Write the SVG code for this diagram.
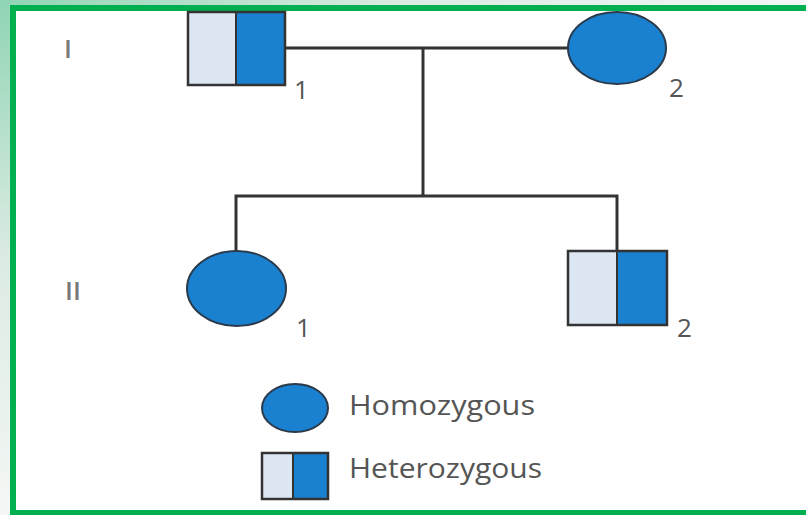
<svg xmlns="http://www.w3.org/2000/svg" width="806" height="515" viewBox="0 0 806 515">
  <defs>
    <linearGradient id="bg" x1="0" y1="0" x2="1" y2="1" gradientUnits="objectBoundingBox">
      <stop offset="0" stop-color="#8fd4b4"/>
      <stop offset="0.25" stop-color="#dbebe2"/>
      <stop offset="0.5" stop-color="#f4f7f5"/>
      <stop offset="1" stop-color="#ffffff"/>
    </linearGradient>
    <style>
      .dark { fill: #1a80d0; stroke: #2a3a4a; stroke-width: 2; }
      .light { fill: #dde6f3; stroke: none; }
      .outline { fill: none; stroke: #333333; stroke-width: 2.5; }
      .divider { stroke: #333333; stroke-width: 2; }
      .line { fill: none; stroke: #333333; stroke-width: 3; }
      .num { font-family: "Open Sans", "DejaVu Sans", sans-serif; font-size: 26px; fill: #555555; }
      .gen { font-family: "Open Sans", "DejaVu Sans", sans-serif; font-size: 26px; font-weight: 600; fill: #7a7a7a; }
      .legend { font-family: "Open Sans", "DejaVu Sans", sans-serif; font-size: 27px; fill: #555555; }
    </style>
  </defs>

  <rect x="0" y="0" width="806" height="515" fill="url(#bg)"/>
  <rect x="13" y="8" width="800" height="505" fill="#ffffff" stroke="#00b050" stroke-width="6"/>

  <g id="generation-labels">
    <text class="gen" x="68" y="58" text-anchor="middle">I</text>
    <text class="gen" x="73" y="300" text-anchor="middle">II</text>
  </g>

  <g id="connectors">
    <path class="line" d="M285 48 H568"/>
    <path class="line" d="M423 48 V196"/>
    <path class="line" d="M236 252 V196 H617 V251"/>
  </g>

  <g id="I-1">
    <rect class="light" x="188" y="12" width="48" height="73"/>
    <rect class="dark" x="236" y="12" width="49" height="73" stroke="none"/>
    <rect class="outline" x="188" y="12" width="97" height="73"/>
    <line class="divider" x1="236" y1="12" x2="236" y2="85"/>
    <text class="num" x="294" y="99">1</text>
  </g>

  <g id="I-2">
    <ellipse class="dark" cx="617" cy="48" rx="49" ry="36"/>
    <text class="num" x="669" y="97">2</text>
  </g>

  <g id="II-1">
    <ellipse class="dark" cx="236.5" cy="288.5" rx="49.5" ry="37.5"/>
    <text class="num" x="296" y="337">1</text>
  </g>

  <g id="II-2">
    <rect class="light" x="568" y="251" width="49" height="74"/>
    <rect class="dark" x="617" y="251" width="50" height="74" stroke="none"/>
    <rect class="outline" x="568" y="251" width="99" height="74"/>
    <line class="divider" x1="617" y1="251" x2="617" y2="325"/>
    <text class="num" x="677" y="337">2</text>
  </g>

  <g id="legend-homozygous">
    <ellipse class="dark" cx="295" cy="408" rx="33" ry="24"/>
    <text class="legend" x="349" y="415" textLength="186" lengthAdjust="spacingAndGlyphs">Homozygous</text>
  </g>

  <g id="legend-heterozygous">
    <rect class="light" x="262" y="453" width="31" height="46"/>
    <rect class="dark" x="293" y="453" width="35" height="46" stroke="none"/>
    <rect class="outline" x="262" y="453" width="66" height="46"/>
    <line class="divider" x1="293" y1="453" x2="293" y2="499"/>
    <text class="legend" x="349" y="478" textLength="193" lengthAdjust="spacingAndGlyphs">Heterozygous</text>
  </g>
</svg>
